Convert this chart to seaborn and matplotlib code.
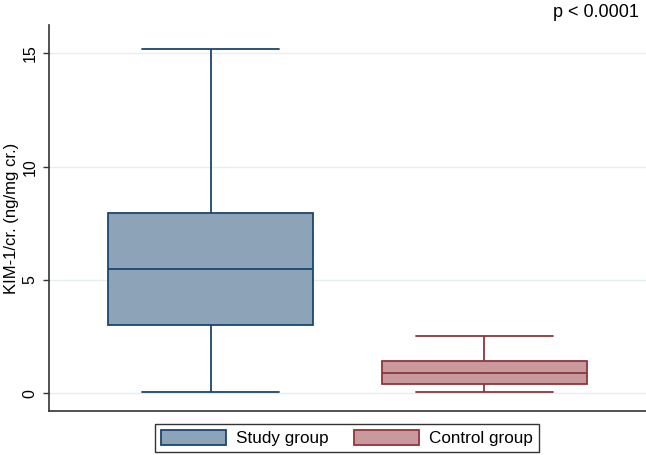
import pandas as pd
import numpy as np
import seaborn as sns
import matplotlib.pyplot as plt
from matplotlib.patches import Patch

# five-number summaries (min, q1, median, q3, max)
groups = ["Study group", "Control group"]
study_vals = [0.04, 3.01, 5.47, 7.95, 15.19]
control_vals = [0.07, 0.41, 0.90, 1.42, 2.51]
yticks = [0, 5, 10, 15]

fills = ["#8CA3B8", "#C89A9D"]
edges = ["#1A476F", "#90353B"]

df = pd.DataFrame({
    "group": [groups[0]] * len(study_vals) + [groups[1]] * len(control_vals),
    "value": study_vals + control_vals,
})

sns.set_style("white")
plt.rcParams['font.family'] = ['Liberation Sans', 'DejaVu Sans']
plt.rcParams['text.color'] = 'black'
plt.rcParams['axes.labelcolor'] = 'black'
plt.rcParams['ytick.labelcolor'] = 'black'

fig = plt.figure(figsize=(6.46, 4.55), dpi=100)
ax = fig.add_axes([0.0759, 0.0967, 0.9241, 0.848])

sns.boxplot(data=df, x="group", y="value", hue="group", order=groups,
            hue_order=groups, palette=fills, saturation=1, width=0.75,
            whis=(0, 100), linewidth=1.3, legend=False, ax=ax)

# per-group outline colours, Stata style caps
for cont, ec in zip(ax.containers, edges):
    for b in cont.boxes:
        b.set_edgecolor(ec)
        b.set_linewidth(1.3)
    for ln in list(cont.medians) + list(cont.whiskers) + list(cont.caps):
        ln.set_color(ec)
        ln.set_linewidth(1.3)
    for cap in cont.caps:
        x = cap.get_xdata()
        c = np.mean(x)
        cap.set_xdata([c - 0.25, c + 0.25])

ax.set_xlim(-0.59, 1.59)
ax.set_ylim(-0.78, 16.25)
ax.set_yticks(yticks)
ax.set_yticklabels([str(t) for t in yticks], rotation=90, va='center', fontsize=11.5)
ax.set_xticks([])
ax.set_xlabel("")
ax.set_ylabel("KIM-1/cr. (ng/mg cr.)", fontsize=12)
ax.yaxis.set_label_coords(-0.05, 0.5)
ax.tick_params(axis='y', length=4.3, width=1, color='#333333', labelcolor='black',
               direction='out', left=True, pad=4.0)
ax.yaxis.grid(True, color='#E6EEF1', linewidth=1)
ax.set_axisbelow(True)
sns.despine(ax=ax)
for s in ['left', 'bottom']:
    ax.spines[s].set_color('#333333')
    ax.spines[s].set_linewidth(1.2)

fig.text(0.989, 0.972, "p < 0.0001", ha='right', va='center', fontsize=13, color='black')

handles = [Patch(facecolor=f, edgecolor=e, linewidth=1.3) for f, e in zip(fills, edges)]
leg = fig.legend(handles, groups, loc='center', bbox_to_anchor=(0.537, 0.037), ncol=2,
                 fontsize=12.3, frameon=True, fancybox=False, handlelength=3.8,
                 handleheight=1.0, handletextpad=0.6, columnspacing=1.5,
                 borderpad=0.35, edgecolor='black', labelcolor='black')
leg.get_frame().set_linewidth(1)

fig.savefig("out.png", dpi=100, facecolor='white')
